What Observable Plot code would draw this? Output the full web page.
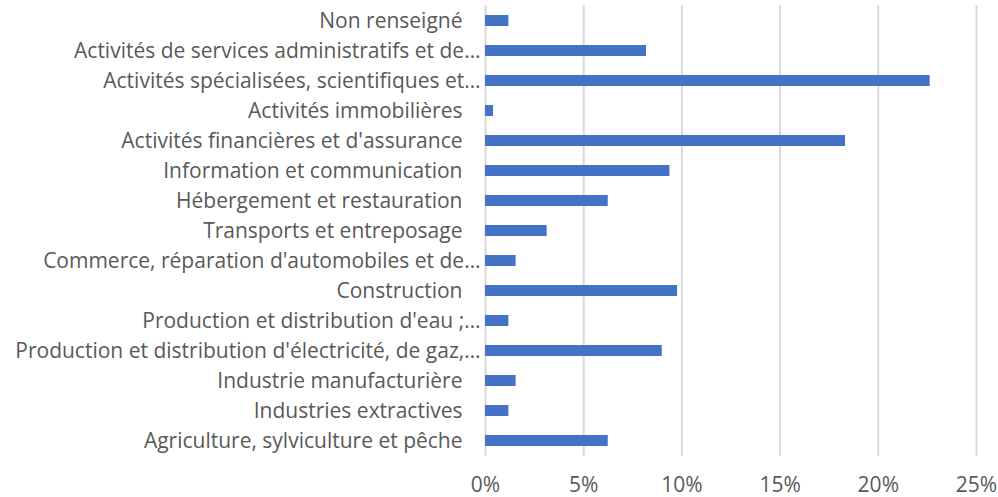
<!DOCTYPE html>
<html>
<head>
<meta charset="utf-8">
<script src="https://cdn.jsdelivr.net/npm/d3@7"></script>
<script src="https://cdn.jsdelivr.net/npm/@observablehq/plot@0.6"></script>
<style>
  html, body { margin: 0; padding: 0; background: #fff; }
  svg { display: block; }
</style>
</head>
<body>
<div id="chart"></div>
<script>
const categories = [
  "Non renseigné",
  "Activités de services administratifs et de…",
  "Activités spécialisées, scientifiques et…",
  "Activités immobilières",
  "Activités financières et d'assurance",
  "Information et communication",
  "Hébergement et restauration",
  "Transports et entreposage",
  "Commerce, réparation d'automobiles et de…",
  "Construction",
  "Production et distribution d'eau ;…",
  "Production et distribution d'électricité, de gaz,…",
  "Industrie manufacturière",
  "Industries extractives",
  "Agriculture, sylviculture et pêche"
];
const values = [0.0119, 0.082, 0.2264, 0.0041, 0.1833, 0.0939, 0.0625, 0.0314, 0.0156, 0.0978, 0.0119, 0.090, 0.0156, 0.0119, 0.0625];
const xTicks = [0, 0.05, 0.10, 0.15, 0.20, 0.25];

const data = categories.map((c, i) => ({category: c, value: values[i]}));
const pct = d => Math.round(d * 100) + "%";

const chart = Plot.plot({
  width: 998,
  height: 497,
  marginLeft: 485,
  marginRight: 22,
  marginTop: 5,
  marginBottom: 41,
  style: {fontFamily: "'Open Sans', sans-serif", fontSize: "21px", color: "#595959", background: "#fff"},
  x: {domain: [0, 0.25], label: null},
  y: {domain: categories, paddingInner: 0.645, paddingOuter: 0.3225, label: null, axis: null},
  marks: [
    Plot.gridX(xTicks, {stroke: "#d9d9d9", strokeOpacity: 1, strokeWidth: 2}),
    Plot.barX(data, {x: "value", y: "category", fill: "#4472c4"}),
    Plot.axisX(xTicks, {tickSize: 0, tickPadding: 21, fontSize: 21, fill: "#595959", label: null, tickFormat: pct}),
    Plot.text(data.filter(d => !d.category.endsWith("…")), {
      x: 0, y: "category", text: "category", textAnchor: "end", dx: -23,
      fontSize: 21, fill: "#595959"
    }),
    Plot.text(data.filter(d => d.category.endsWith("…")), {
      x: 0, y: "category", text: "category", textAnchor: "end", dx: -5,
      fontSize: 21, fill: "#595959"
    })
  ]
});
document.getElementById("chart").appendChild(chart);
</script>
</body>
</html>
